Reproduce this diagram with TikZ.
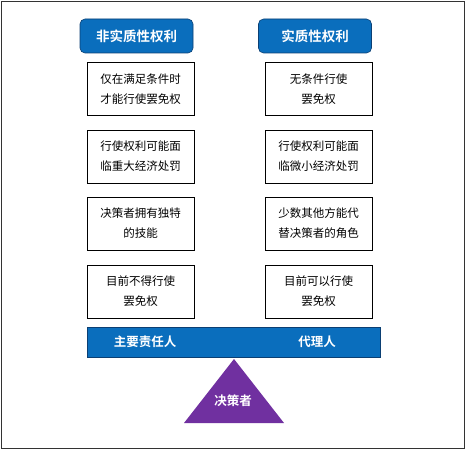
\documentclass[tikz,border=0pt]{standalone}
\usepackage{fontspec}
\newfontfamily\cjk{Noto Sans CJK SC}
\newfontfamily\cjkb{Noto Sans CJK SC Bold}
\definecolor{hblue}{HTML}{0A6EBD}
\definecolor{bardark}{HTML}{0B3F73}
\definecolor{tripurple}{HTML}{7030A0}
\begin{document}
\begin{tikzpicture}[x=1pt,y=-1pt,
  header/.style={draw=bardark,fill=hblue,rounded corners=5pt,line width=0.6pt,
    minimum width=113pt,minimum height=34pt,inner sep=0pt,text=white,font=\cjkb\fontsize{13.5}{16}\selectfont},
  itembox/.style={draw=black,line width=0.9pt,fill=white,minimum width=107pt,minimum height=53pt,
    inner sep=0pt,align=center,font=\cjk\fontsize{11.5}{20}\selectfont},
  bartext/.style={text=white,font=\cjkb\fontsize{12.5}{15}\selectfont,inner sep=0pt}]
\useasboundingbox (0,0) rectangle (466,452);
\draw[line width=1pt,draw=black!80] (1.5,2) rectangle (464.5,448);
% headers
\node[header] (hl) at (136.5,36) {非实质性权利};
\node[header] (hr) at (315,36) {实质性权利};
% left boxes
\node[itembox] (l1) at (140.5,89) {仅在满足条件时\\才能行使罢免权};
\node[itembox] (l2) at (140.5,156.5) {行使权利可能面\\临重大经济处罚};
\node[itembox] (l3) at (140.5,223.5) {决策者拥有独特\\的技能};
\node[itembox] (l4) at (140.5,291.5) {目前不得行使\\罢免权};
% right boxes
\node[itembox] (r1) at (318.5,89) {无条件行使\\罢免权};
\node[itembox] (r2) at (318.5,156.5) {行使权利可能面\\临微小经济处罚};
\node[itembox] (r3) at (318.5,223.5) {少数其他方能代\\替决策者的角色};
\node[itembox] (r4) at (318.5,291.5) {目前可以行使\\罢免权};
% bar
\node[draw=bardark,fill=hblue,line width=0.8pt,minimum width=293pt,minimum height=30pt,inner sep=0pt] (bar) at (233.5,342) {};
\node[bartext] (pl) at (145,342) {主要责任人};
\node[bartext] (ag) at (317,342) {代理人};
% triangle
\coordinate (tA) at (234,359);
\coordinate (tB) at (184,423);
\coordinate (tC) at (284,423);
\fill[tripurple] (tA) -- (tB) -- (tC) -- cycle;
\node[bartext] (dm) at (233,401) {决策者};
\end{tikzpicture}
\end{document}
